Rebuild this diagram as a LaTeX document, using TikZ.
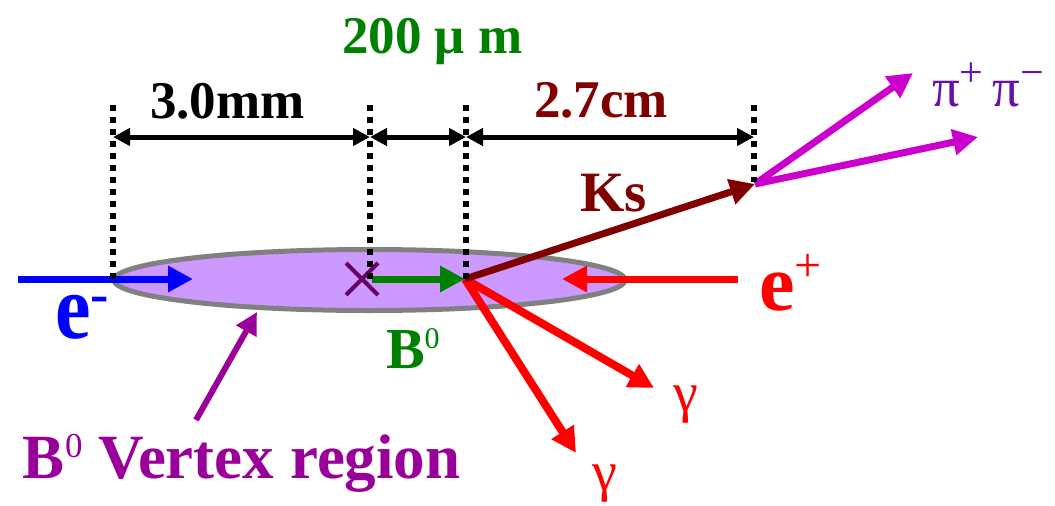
\documentclass[tikz,border=0pt]{standalone}
\usepackage{fontspec}
\setmainfont{Liberation Serif}
\usetikzlibrary{arrows.meta,shapes.geometric}
\definecolor{regfill}{HTML}{CC99FF}
\definecolor{reggray}{HTML}{808080}
\definecolor{bgreen}{HTML}{008000}
\definecolor{ksred}{HTML}{800000}
\definecolor{pimag}{HTML}{CC00CC}
\definecolor{pitext}{HTML}{6611AA}
\definecolor{vpurple}{HTML}{990099}
\definecolor{xpurple}{HTML}{660066}
\begin{document}
\begin{tikzpicture}[x=1pt,y=-1pt,
  lbl/.style={anchor=base west, inner sep=0pt, outer sep=0pt},
  bigbold/.style={font=\bfseries\fontsize{53}{60}\selectfont},
  beam/.style={line width=7pt, -{Triangle[length=25pt,width=25pt]}},
  thinbeam/.style={line width=6pt, -{Triangle[length=22pt,width=22pt]}},
  dimline/.style={line width=5pt, {Triangle[length=17pt,width=17pt]}-{Triangle[length=17pt,width=17pt]}},
  guide/.style={line width=6pt, dash pattern=on 6pt off 6pt},
]
\useasboundingbox (0,0) rectangle (1055,506);

% vertex region
\node[ellipse, draw=reggray, fill=regfill, line width=5pt, minimum width=511pt,
      minimum height=61pt, inner sep=0pt] (reg) at (369.5,280) {};

% coordinates
\coordinate (eL) at (18,279);
\coordinate (eT) at (193,279);
\coordinate (pS) at (738,279);
\coordinate (pT) at (562,279);
\coordinate (X) at (362,279);
\coordinate (bS) at (372,279);
\coordinate (V) at (465,279);
\coordinate (K) at (755,184);
\coordinate (pi1) at (913,73);
\coordinate (pi2) at (978,137);
\coordinate (g1) at (654,388);
\coordinate (g2) at (576,453);
\coordinate (rS) at (196,420);
\coordinate (rT) at (257,312);

% guide lines
\coordinate (ga) at (113,105); \coordinate (gaa) at (113,280);
\coordinate (gb) at (370,105); \coordinate (gbb) at (370,280);
\coordinate (gc) at (466,105); \coordinate (gcc) at (466,280);
\coordinate (gd) at (754,105); \coordinate (gdd) at (754,182);
\coordinate (da) at (113,137); \coordinate (db) at (370,137);
\coordinate (dc) at (466,137); \coordinate (dd) at (754,137);

% beams
\draw[beam, blue] (eL) -- (eT);
\draw[beam, red] (pS) -- (pT);
\draw[beam, red, line width=8pt] (V) -- (g1);
\draw[beam, red, line width=8pt] (V) -- (g2);
\draw[beam, bgreen] (bS) -- (V);
\draw[beam, ksred] (V) -- (K);
\draw[beam, pimag] (K) -- (pi1);
\draw[beam, pimag] (K) -- (pi2);
\draw[thinbeam, vpurple] (rS) -- (rT);

% cross
\draw[xpurple, line width=4pt] ([shift={(-16,-16)}]X) -- ([shift={(16,16)}]X)
      ([shift={(-16,16)}]X) -- ([shift={(16,-16)}]X);

% guides and dimensions
\draw[guide] (ga) -- (gaa);
\draw[guide] (gb) -- (gbb);
\draw[guide] (gc) -- (gcc);
\draw[guide] (gd) -- (gdd);
\draw[dimline] (da) -- (db);
\draw[dimline] (db) -- (dc);
\draw[dimline] (dc) -- (dd);

% labels
\node[lbl, bigbold] (t30) at (150,118) {3.0mm};
\node[lbl, bigbold, text=bgreen] (t200) at (342,53) {200 μ m};
\node[lbl, bigbold, text=ksred] (t27) at (534,117) {2.7cm};
\node[lbl, text=ksred, font=\bfseries\fontsize{57}{60}\selectfont] (tks) at (580,211) {Ks};
\node[lbl, text=bgreen, font=\bfseries\fontsize{58}{60}\selectfont] (tb0) at (386,368)
   {B\raisebox{20pt}{\fontsize{30}{30}\selectfont\mdseries 0}};
\node[lbl, text=vpurple, font=\bfseries\fontsize{63}{66}\selectfont] (tvr) at (23,478)
   {B\raisebox{21pt}{\fontsize{35}{35}\selectfont\mdseries 0} Vertex region};
\node[lbl, text=blue, font=\bfseries\fontsize{80}{80}\selectfont] (tem) at (55,338)
   {\scalebox{1}[1.15]{e}\raisebox{26pt}{\fontsize{55}{55}\selectfont -}};
\node[lbl, text=red, font=\bfseries\fontsize{80}{80}\selectfont] (tep) at (759,310)
   {e\raisebox{29pt}{\fontsize{48}{48}\selectfont\mdseries +}};
\node[lbl, text=pitext, font=\fontsize{55}{55}\selectfont] (tpi) at (932,106)
   {π\raisebox{20pt}{\fontsize{42}{42}\selectfont +}\,π\raisebox{20pt}{\fontsize{42}{42}\selectfont −}};
\node[lbl, text=red, font=\fontsize{56}{56}\selectfont] (tg1) at (673,411) {γ};
\node[lbl, text=red, font=\fontsize{56}{56}\selectfont] (tg2) at (592,490) {γ};
\end{tikzpicture}
\end{document}
